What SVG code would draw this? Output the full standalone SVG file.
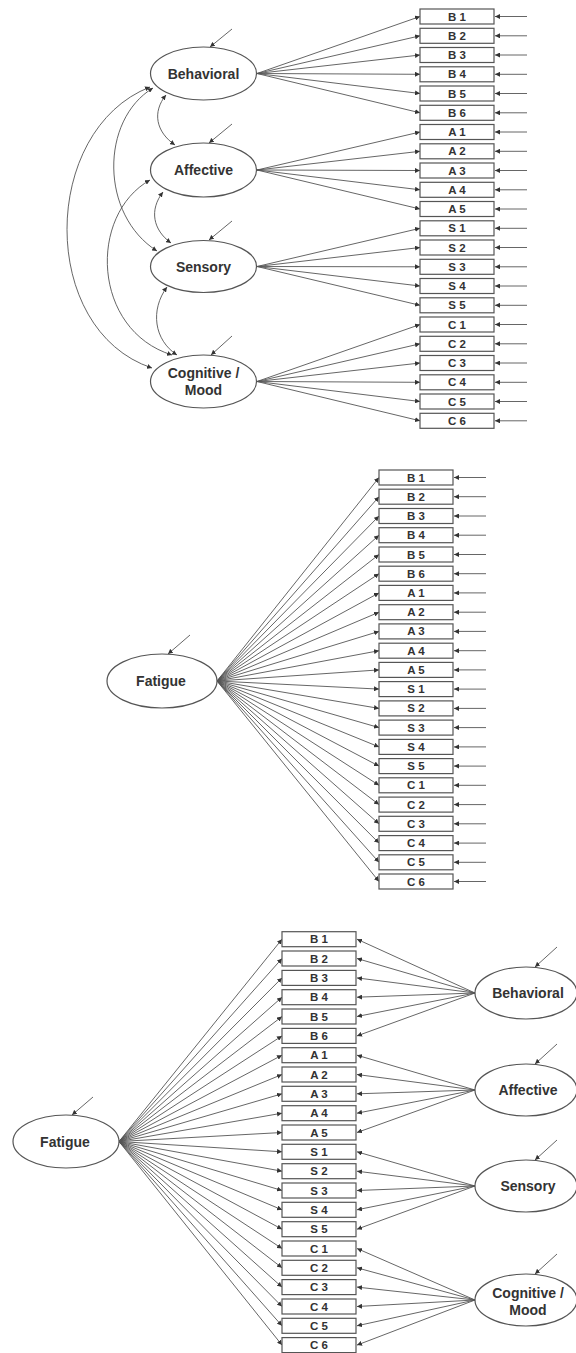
<svg xmlns="http://www.w3.org/2000/svg" width="576" height="1353" viewBox="0 0 576 1353">
<defs>
<marker id="ah" viewBox="0 0 6 6" refX="6" refY="3" markerWidth="5" markerHeight="5" markerUnits="userSpaceOnUse" orient="auto-start-reverse"><path d="M0,0 L6,3 L0,6 z" fill="#333"/></marker>
</defs>
<style>
.ell{fill:#fff;stroke:#555;stroke-width:1.2}
.box{fill:#fff;stroke:#555;stroke-width:1.2}
.ln{fill:none;stroke:#555;stroke-width:0.9;marker-end:url(#ah)}
.cv{fill:none;stroke:#555;stroke-width:0.9;marker-end:url(#ah);marker-start:url(#ah)}
.lt{font-family:"Liberation Sans",Arial,sans-serif;font-weight:bold;font-size:14px;fill:#333;text-anchor:middle}
.bt{font-family:"Liberation Sans",Arial,sans-serif;font-weight:bold;font-size:11.5px;fill:#333;text-anchor:middle}
</style>
<rect width="576" height="1353" fill="#fff"/>

<g id="connectors">
<!-- top panel loadings -->
<line class="ln" x1="257" y1="73.5" x2="420" y2="16.5"/>
<line class="ln" x1="257" y1="73.5" x2="420" y2="35.8"/>
<line class="ln" x1="257" y1="73.5" x2="420" y2="55"/>
<line class="ln" x1="257" y1="73.5" x2="420" y2="74.3"/>
<line class="ln" x1="257" y1="73.5" x2="420" y2="93.5"/>
<line class="ln" x1="257" y1="73.5" x2="420" y2="112.8"/>
<line class="ln" x1="257" y1="170" x2="420" y2="132"/>
<line class="ln" x1="257" y1="170" x2="420" y2="151.3"/>
<line class="ln" x1="257" y1="170" x2="420" y2="170.5"/>
<line class="ln" x1="257" y1="170" x2="420" y2="189.8"/>
<line class="ln" x1="257" y1="170" x2="420" y2="209"/>
<line class="ln" x1="257" y1="266.5" x2="420" y2="228.3"/>
<line class="ln" x1="257" y1="266.5" x2="420" y2="247.5"/>
<line class="ln" x1="257" y1="266.5" x2="420" y2="266.8"/>
<line class="ln" x1="257" y1="266.5" x2="420" y2="286"/>
<line class="ln" x1="257" y1="266.5" x2="420" y2="305.3"/>
<line class="ln" x1="257" y1="381.5" x2="420" y2="324.5"/>
<line class="ln" x1="257" y1="381.5" x2="420" y2="343.8"/>
<line class="ln" x1="257" y1="381.5" x2="420" y2="363"/>
<line class="ln" x1="257" y1="381.5" x2="420" y2="382.3"/>
<line class="ln" x1="257" y1="381.5" x2="420" y2="401.5"/>
<line class="ln" x1="257" y1="381.5" x2="420" y2="420.8"/>
<!-- top panel item errors -->
<line class="ln" x1="527" y1="16.5" x2="495" y2="16.5"/>
<line class="ln" x1="527" y1="35.8" x2="495" y2="35.8"/>
<line class="ln" x1="527" y1="55" x2="495" y2="55"/>
<line class="ln" x1="527" y1="74.3" x2="495" y2="74.3"/>
<line class="ln" x1="527" y1="93.5" x2="495" y2="93.5"/>
<line class="ln" x1="527" y1="112.8" x2="495" y2="112.8"/>
<line class="ln" x1="527" y1="132" x2="495" y2="132"/>
<line class="ln" x1="527" y1="151.3" x2="495" y2="151.3"/>
<line class="ln" x1="527" y1="170.5" x2="495" y2="170.5"/>
<line class="ln" x1="527" y1="189.8" x2="495" y2="189.8"/>
<line class="ln" x1="527" y1="209" x2="495" y2="209"/>
<line class="ln" x1="527" y1="228.3" x2="495" y2="228.3"/>
<line class="ln" x1="527" y1="247.5" x2="495" y2="247.5"/>
<line class="ln" x1="527" y1="266.8" x2="495" y2="266.8"/>
<line class="ln" x1="527" y1="286" x2="495" y2="286"/>
<line class="ln" x1="527" y1="305.3" x2="495" y2="305.3"/>
<line class="ln" x1="527" y1="324.5" x2="495" y2="324.5"/>
<line class="ln" x1="527" y1="343.8" x2="495" y2="343.8"/>
<line class="ln" x1="527" y1="363" x2="495" y2="363"/>
<line class="ln" x1="527" y1="382.3" x2="495" y2="382.3"/>
<line class="ln" x1="527" y1="401.5" x2="495" y2="401.5"/>
<line class="ln" x1="527" y1="420.8" x2="495" y2="420.8"/>
<!-- top latent errors -->
<line class="ln" x1="232" y1="29" x2="210" y2="47"/>
<line class="ln" x1="232" y1="124" x2="209" y2="143"/>
<line class="ln" x1="232" y1="221" x2="209" y2="240"/>
<line class="ln" x1="232" y1="336" x2="211" y2="355"/>
<!-- covariances -->
<path class="cv" d="M166,95 C152,112 156,132 175,145"/>
<path class="cv" d="M163,192 C149,210 153,230 171,243"/>
<path class="cv" d="M167,287 C150,310 154,340 177,355"/>
<path class="cv" d="M153,88 C100,120 100,215 157,251"/>
<path class="cv" d="M150,180 C88,215 92,330 172,355"/>
<path class="cv" d="M150,87 C40,130 38,330 152,368"/>

<!-- middle panel fan -->
<line class="ln" x1="217" y1="681" x2="379" y2="477.5"/>
<line class="ln" x1="217" y1="681" x2="379" y2="496.7"/>
<line class="ln" x1="217" y1="681" x2="379" y2="516"/>
<line class="ln" x1="217" y1="681" x2="379" y2="535.2"/>
<line class="ln" x1="217" y1="681" x2="379" y2="554.5"/>
<line class="ln" x1="217" y1="681" x2="379" y2="573.7"/>
<line class="ln" x1="217" y1="681" x2="379" y2="592.9"/>
<line class="ln" x1="217" y1="681" x2="379" y2="612.2"/>
<line class="ln" x1="217" y1="681" x2="379" y2="631.4"/>
<line class="ln" x1="217" y1="681" x2="379" y2="650.7"/>
<line class="ln" x1="217" y1="681" x2="379" y2="669.9"/>
<line class="ln" x1="217" y1="681" x2="379" y2="689.1"/>
<line class="ln" x1="217" y1="681" x2="379" y2="708.4"/>
<line class="ln" x1="217" y1="681" x2="379" y2="727.6"/>
<line class="ln" x1="217" y1="681" x2="379" y2="746.9"/>
<line class="ln" x1="217" y1="681" x2="379" y2="766.1"/>
<line class="ln" x1="217" y1="681" x2="379" y2="785.3"/>
<line class="ln" x1="217" y1="681" x2="379" y2="804.6"/>
<line class="ln" x1="217" y1="681" x2="379" y2="823.8"/>
<line class="ln" x1="217" y1="681" x2="379" y2="843.1"/>
<line class="ln" x1="217" y1="681" x2="379" y2="862.3"/>
<line class="ln" x1="217" y1="681" x2="379" y2="881.5"/>
<!-- middle item errors -->
<line class="ln" x1="486" y1="477.5" x2="454" y2="477.5"/>
<line class="ln" x1="486" y1="496.7" x2="454" y2="496.7"/>
<line class="ln" x1="486" y1="516" x2="454" y2="516"/>
<line class="ln" x1="486" y1="535.2" x2="454" y2="535.2"/>
<line class="ln" x1="486" y1="554.5" x2="454" y2="554.5"/>
<line class="ln" x1="486" y1="573.7" x2="454" y2="573.7"/>
<line class="ln" x1="486" y1="592.9" x2="454" y2="592.9"/>
<line class="ln" x1="486" y1="612.2" x2="454" y2="612.2"/>
<line class="ln" x1="486" y1="631.4" x2="454" y2="631.4"/>
<line class="ln" x1="486" y1="650.7" x2="454" y2="650.7"/>
<line class="ln" x1="486" y1="669.9" x2="454" y2="669.9"/>
<line class="ln" x1="486" y1="689.1" x2="454" y2="689.1"/>
<line class="ln" x1="486" y1="708.4" x2="454" y2="708.4"/>
<line class="ln" x1="486" y1="727.6" x2="454" y2="727.6"/>
<line class="ln" x1="486" y1="746.9" x2="454" y2="746.9"/>
<line class="ln" x1="486" y1="766.1" x2="454" y2="766.1"/>
<line class="ln" x1="486" y1="785.3" x2="454" y2="785.3"/>
<line class="ln" x1="486" y1="804.6" x2="454" y2="804.6"/>
<line class="ln" x1="486" y1="823.8" x2="454" y2="823.8"/>
<line class="ln" x1="486" y1="843.1" x2="454" y2="843.1"/>
<line class="ln" x1="486" y1="862.3" x2="454" y2="862.3"/>
<line class="ln" x1="486" y1="881.5" x2="454" y2="881.5"/>
<line class="ln" x1="190" y1="635" x2="168" y2="654"/>

<!-- bottom panel general fan -->
<line class="ln" x1="119" y1="1141.5" x2="282" y2="939.2"/>
<line class="ln" x1="119" y1="1141.5" x2="282" y2="958.5"/>
<line class="ln" x1="119" y1="1141.5" x2="282" y2="977.9"/>
<line class="ln" x1="119" y1="1141.5" x2="282" y2="997.2"/>
<line class="ln" x1="119" y1="1141.5" x2="282" y2="1016.5"/>
<line class="ln" x1="119" y1="1141.5" x2="282" y2="1035.9"/>
<line class="ln" x1="119" y1="1141.5" x2="282" y2="1055.2"/>
<line class="ln" x1="119" y1="1141.5" x2="282" y2="1074.5"/>
<line class="ln" x1="119" y1="1141.5" x2="282" y2="1093.8"/>
<line class="ln" x1="119" y1="1141.5" x2="282" y2="1113.2"/>
<line class="ln" x1="119" y1="1141.5" x2="282" y2="1132.5"/>
<line class="ln" x1="119" y1="1141.5" x2="282" y2="1151.8"/>
<line class="ln" x1="119" y1="1141.5" x2="282" y2="1171.2"/>
<line class="ln" x1="119" y1="1141.5" x2="282" y2="1190.5"/>
<line class="ln" x1="119" y1="1141.5" x2="282" y2="1209.8"/>
<line class="ln" x1="119" y1="1141.5" x2="282" y2="1229.2"/>
<line class="ln" x1="119" y1="1141.5" x2="282" y2="1248.5"/>
<line class="ln" x1="119" y1="1141.5" x2="282" y2="1267.8"/>
<line class="ln" x1="119" y1="1141.5" x2="282" y2="1287.1"/>
<line class="ln" x1="119" y1="1141.5" x2="282" y2="1306.5"/>
<line class="ln" x1="119" y1="1141.5" x2="282" y2="1325.8"/>
<line class="ln" x1="119" y1="1141.5" x2="282" y2="1345.1"/>
<line class="ln" x1="93" y1="1097" x2="72" y2="1115"/>
<!-- bottom panel specific loadings -->
<line class="ln" x1="475" y1="993" x2="357" y2="939.2"/>
<line class="ln" x1="475" y1="993" x2="357" y2="958.5"/>
<line class="ln" x1="475" y1="993" x2="357" y2="977.9"/>
<line class="ln" x1="475" y1="993" x2="357" y2="997.2"/>
<line class="ln" x1="475" y1="993" x2="357" y2="1016.5"/>
<line class="ln" x1="475" y1="993" x2="357" y2="1035.9"/>
<line class="ln" x1="475" y1="1090" x2="357" y2="1055.2"/>
<line class="ln" x1="475" y1="1090" x2="357" y2="1074.5"/>
<line class="ln" x1="475" y1="1090" x2="357" y2="1093.8"/>
<line class="ln" x1="475" y1="1090" x2="357" y2="1113.2"/>
<line class="ln" x1="475" y1="1090" x2="357" y2="1132.5"/>
<line class="ln" x1="475" y1="1186" x2="357" y2="1151.8"/>
<line class="ln" x1="475" y1="1186" x2="357" y2="1171.2"/>
<line class="ln" x1="475" y1="1186" x2="357" y2="1190.5"/>
<line class="ln" x1="475" y1="1186" x2="357" y2="1209.8"/>
<line class="ln" x1="475" y1="1186" x2="357" y2="1229.2"/>
<line class="ln" x1="475" y1="1300" x2="357" y2="1248.5"/>
<line class="ln" x1="475" y1="1300" x2="357" y2="1267.8"/>
<line class="ln" x1="475" y1="1300" x2="357" y2="1287.1"/>
<line class="ln" x1="475" y1="1300" x2="357" y2="1306.5"/>
<line class="ln" x1="475" y1="1300" x2="357" y2="1325.8"/>
<line class="ln" x1="475" y1="1300" x2="357" y2="1345.1"/>
<line class="ln" x1="557" y1="947" x2="535" y2="967"/>
<line class="ln" x1="557" y1="1044" x2="535" y2="1064"/>
<line class="ln" x1="557" y1="1140" x2="535" y2="1160"/>
<line class="ln" x1="557" y1="1254" x2="535" y2="1274"/>
</g>

<!-- top panel latent nodes -->
<g id="top-behavioral"><ellipse class="ell" cx="203.5" cy="73.5" rx="53" ry="26.5"/><text class="lt" x="203.5" y="78.5">Behavioral</text></g>
<g id="top-affective"><ellipse class="ell" cx="203.5" cy="170" rx="53" ry="27"/><text class="lt" x="203.5" y="175">Affective</text></g>
<g id="top-sensory"><ellipse class="ell" cx="203.5" cy="266.5" rx="53" ry="26"/><text class="lt" x="203.5" y="271.5">Sensory</text></g>
<g id="top-cognitive"><ellipse class="ell" cx="203.5" cy="381.5" rx="53" ry="26.5"/><text class="lt" x="203.5" y="378">Cognitive /</text><text class="lt" x="203.5" y="395">Mood</text></g>

<!-- top panel items -->
<g id="top-B1"><rect class="box" x="420" y="9" width="74" height="15"/><text class="bt" x="457" y="20.5">B 1</text></g>
<g id="top-B2"><rect class="box" x="420" y="28.3" width="74" height="15"/><text class="bt" x="457" y="39.8">B 2</text></g>
<g id="top-B3"><rect class="box" x="420" y="47.5" width="74" height="15"/><text class="bt" x="457" y="59">B 3</text></g>
<g id="top-B4"><rect class="box" x="420" y="66.8" width="74" height="15"/><text class="bt" x="457" y="78.3">B 4</text></g>
<g id="top-B5"><rect class="box" x="420" y="86" width="74" height="15"/><text class="bt" x="457" y="97.5">B 5</text></g>
<g id="top-B6"><rect class="box" x="420" y="105.3" width="74" height="15"/><text class="bt" x="457" y="116.8">B 6</text></g>
<g id="top-A1"><rect class="box" x="420" y="124.5" width="74" height="15"/><text class="bt" x="457" y="136">A 1</text></g>
<g id="top-A2"><rect class="box" x="420" y="143.8" width="74" height="15"/><text class="bt" x="457" y="155.3">A 2</text></g>
<g id="top-A3"><rect class="box" x="420" y="163" width="74" height="15"/><text class="bt" x="457" y="174.5">A 3</text></g>
<g id="top-A4"><rect class="box" x="420" y="182.3" width="74" height="15"/><text class="bt" x="457" y="193.8">A 4</text></g>
<g id="top-A5"><rect class="box" x="420" y="201.5" width="74" height="15"/><text class="bt" x="457" y="213">A 5</text></g>
<g id="top-S1"><rect class="box" x="420" y="220.8" width="74" height="15"/><text class="bt" x="457" y="232.3">S 1</text></g>
<g id="top-S2"><rect class="box" x="420" y="240" width="74" height="15"/><text class="bt" x="457" y="251.5">S 2</text></g>
<g id="top-S3"><rect class="box" x="420" y="259.3" width="74" height="15"/><text class="bt" x="457" y="270.8">S 3</text></g>
<g id="top-S4"><rect class="box" x="420" y="278.5" width="74" height="15"/><text class="bt" x="457" y="290">S 4</text></g>
<g id="top-S5"><rect class="box" x="420" y="297.8" width="74" height="15"/><text class="bt" x="457" y="309.3">S 5</text></g>
<g id="top-C1"><rect class="box" x="420" y="317" width="74" height="15"/><text class="bt" x="457" y="328.5">C 1</text></g>
<g id="top-C2"><rect class="box" x="420" y="336.3" width="74" height="15"/><text class="bt" x="457" y="347.8">C 2</text></g>
<g id="top-C3"><rect class="box" x="420" y="355.5" width="74" height="15"/><text class="bt" x="457" y="367">C 3</text></g>
<g id="top-C4"><rect class="box" x="420" y="374.8" width="74" height="15"/><text class="bt" x="457" y="386.3">C 4</text></g>
<g id="top-C5"><rect class="box" x="420" y="394" width="74" height="15"/><text class="bt" x="457" y="405.5">C 5</text></g>
<g id="top-C6"><rect class="box" x="420" y="413.3" width="74" height="15"/><text class="bt" x="457" y="424.8">C 6</text></g>

<!-- middle panel -->
<g id="mid-fatigue"><ellipse class="ell" cx="162" cy="681" rx="55" ry="27"/><text class="lt" x="161" y="686">Fatigue</text></g>
<g id="mid-B1"><rect class="box" x="379" y="470" width="74" height="15"/><text class="bt" x="416" y="481.5">B 1</text></g>
<g id="mid-B2"><rect class="box" x="379" y="489.2" width="74" height="15"/><text class="bt" x="416" y="500.7">B 2</text></g>
<g id="mid-B3"><rect class="box" x="379" y="508.5" width="74" height="15"/><text class="bt" x="416" y="520">B 3</text></g>
<g id="mid-B4"><rect class="box" x="379" y="527.7" width="74" height="15"/><text class="bt" x="416" y="539.2">B 4</text></g>
<g id="mid-B5"><rect class="box" x="379" y="547" width="74" height="15"/><text class="bt" x="416" y="558.5">B 5</text></g>
<g id="mid-B6"><rect class="box" x="379" y="566.2" width="74" height="15"/><text class="bt" x="416" y="577.7">B 6</text></g>
<g id="mid-A1"><rect class="box" x="379" y="585.4" width="74" height="15"/><text class="bt" x="416" y="596.9">A 1</text></g>
<g id="mid-A2"><rect class="box" x="379" y="604.7" width="74" height="15"/><text class="bt" x="416" y="616.2">A 2</text></g>
<g id="mid-A3"><rect class="box" x="379" y="623.9" width="74" height="15"/><text class="bt" x="416" y="635.4">A 3</text></g>
<g id="mid-A4"><rect class="box" x="379" y="643.2" width="74" height="15"/><text class="bt" x="416" y="654.7">A 4</text></g>
<g id="mid-A5"><rect class="box" x="379" y="662.4" width="74" height="15"/><text class="bt" x="416" y="673.9">A 5</text></g>
<g id="mid-S1"><rect class="box" x="379" y="681.6" width="74" height="15"/><text class="bt" x="416" y="693.1">S 1</text></g>
<g id="mid-S2"><rect class="box" x="379" y="700.9" width="74" height="15"/><text class="bt" x="416" y="712.4">S 2</text></g>
<g id="mid-S3"><rect class="box" x="379" y="720.1" width="74" height="15"/><text class="bt" x="416" y="731.6">S 3</text></g>
<g id="mid-S4"><rect class="box" x="379" y="739.4" width="74" height="15"/><text class="bt" x="416" y="750.9">S 4</text></g>
<g id="mid-S5"><rect class="box" x="379" y="758.6" width="74" height="15"/><text class="bt" x="416" y="770.1">S 5</text></g>
<g id="mid-C1"><rect class="box" x="379" y="777.8" width="74" height="15"/><text class="bt" x="416" y="789.3">C 1</text></g>
<g id="mid-C2"><rect class="box" x="379" y="797.1" width="74" height="15"/><text class="bt" x="416" y="808.6">C 2</text></g>
<g id="mid-C3"><rect class="box" x="379" y="816.3" width="74" height="15"/><text class="bt" x="416" y="827.8">C 3</text></g>
<g id="mid-C4"><rect class="box" x="379" y="835.6" width="74" height="15"/><text class="bt" x="416" y="847.1">C 4</text></g>
<g id="mid-C5"><rect class="box" x="379" y="854.8" width="74" height="15"/><text class="bt" x="416" y="866.3">C 5</text></g>
<g id="mid-C6"><rect class="box" x="379" y="874" width="74" height="15"/><text class="bt" x="416" y="885.5">C 6</text></g>

<!-- bottom panel -->
<g id="bot-fatigue"><ellipse class="ell" cx="66" cy="1141.5" rx="53" ry="26.5"/><text class="lt" x="65" y="1146.5">Fatigue</text></g>
<g id="bot-behavioral"><ellipse class="ell" cx="526" cy="993" rx="51" ry="26"/><text class="lt" x="528" y="998">Behavioral</text></g>
<g id="bot-affective"><ellipse class="ell" cx="526" cy="1090" rx="51" ry="26"/><text class="lt" x="528" y="1095">Affective</text></g>
<g id="bot-sensory"><ellipse class="ell" cx="526" cy="1186" rx="51" ry="26"/><text class="lt" x="528" y="1191">Sensory</text></g>
<g id="bot-cognitive"><ellipse class="ell" cx="526" cy="1300" rx="51" ry="26"/><text class="lt" x="528" y="1298">Cognitive /</text><text class="lt" x="528" y="1315">Mood</text></g>
<g id="bot-B1"><rect class="box" x="282" y="931.7" width="74" height="15"/><text class="bt" x="319" y="943.2">B 1</text></g>
<g id="bot-B2"><rect class="box" x="282" y="951" width="74" height="15"/><text class="bt" x="319" y="962.5">B 2</text></g>
<g id="bot-B3"><rect class="box" x="282" y="970.4" width="74" height="15"/><text class="bt" x="319" y="981.9">B 3</text></g>
<g id="bot-B4"><rect class="box" x="282" y="989.7" width="74" height="15"/><text class="bt" x="319" y="1001.2">B 4</text></g>
<g id="bot-B5"><rect class="box" x="282" y="1009" width="74" height="15"/><text class="bt" x="319" y="1020.5">B 5</text></g>
<g id="bot-B6"><rect class="box" x="282" y="1028.4" width="74" height="15"/><text class="bt" x="319" y="1039.9">B 6</text></g>
<g id="bot-A1"><rect class="box" x="282" y="1047.7" width="74" height="15"/><text class="bt" x="319" y="1059.2">A 1</text></g>
<g id="bot-A2"><rect class="box" x="282" y="1067" width="74" height="15"/><text class="bt" x="319" y="1078.5">A 2</text></g>
<g id="bot-A3"><rect class="box" x="282" y="1086.3" width="74" height="15"/><text class="bt" x="319" y="1097.8">A 3</text></g>
<g id="bot-A4"><rect class="box" x="282" y="1105.7" width="74" height="15"/><text class="bt" x="319" y="1117.2">A 4</text></g>
<g id="bot-A5"><rect class="box" x="282" y="1125" width="74" height="15"/><text class="bt" x="319" y="1136.5">A 5</text></g>
<g id="bot-S1"><rect class="box" x="282" y="1144.3" width="74" height="15"/><text class="bt" x="319" y="1155.8">S 1</text></g>
<g id="bot-S2"><rect class="box" x="282" y="1163.7" width="74" height="15"/><text class="bt" x="319" y="1175.2">S 2</text></g>
<g id="bot-S3"><rect class="box" x="282" y="1183" width="74" height="15"/><text class="bt" x="319" y="1194.5">S 3</text></g>
<g id="bot-S4"><rect class="box" x="282" y="1202.3" width="74" height="15"/><text class="bt" x="319" y="1213.8">S 4</text></g>
<g id="bot-S5"><rect class="box" x="282" y="1221.7" width="74" height="15"/><text class="bt" x="319" y="1233.2">S 5</text></g>
<g id="bot-C1"><rect class="box" x="282" y="1241" width="74" height="15"/><text class="bt" x="319" y="1252.5">C 1</text></g>
<g id="bot-C2"><rect class="box" x="282" y="1260.3" width="74" height="15"/><text class="bt" x="319" y="1271.8">C 2</text></g>
<g id="bot-C3"><rect class="box" x="282" y="1279.6" width="74" height="15"/><text class="bt" x="319" y="1291.1">C 3</text></g>
<g id="bot-C4"><rect class="box" x="282" y="1299" width="74" height="15"/><text class="bt" x="319" y="1310.5">C 4</text></g>
<g id="bot-C5"><rect class="box" x="282" y="1318.3" width="74" height="15"/><text class="bt" x="319" y="1329.8">C 5</text></g>
<g id="bot-C6"><rect class="box" x="282" y="1337.6" width="74" height="15"/><text class="bt" x="319" y="1349.1">C 6</text></g>
</svg>
